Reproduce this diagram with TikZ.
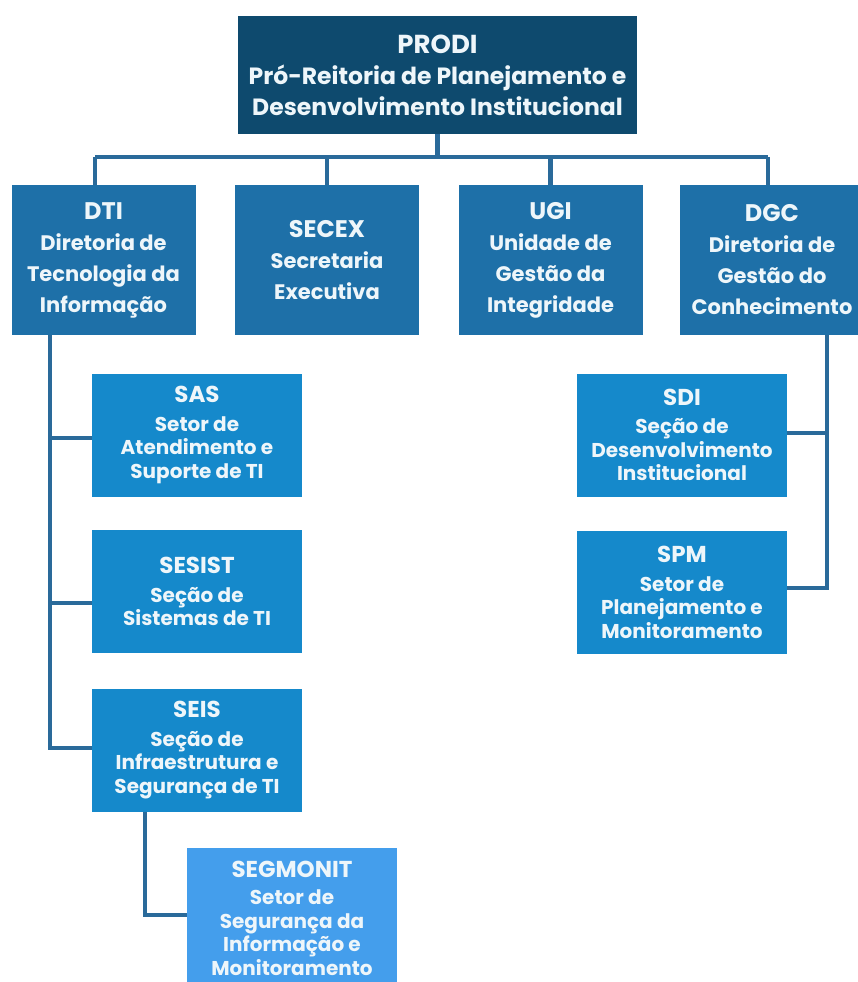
\documentclass[tikz,border=0pt]{standalone}
\usepackage{fontspec}
\setmainfont{Poppins}
\definecolor{navy}{HTML}{0E4A6E}
\definecolor{mid}{HTML}{1E70A8}
\definecolor{unit}{HTML}{1589CB}
\definecolor{light}{HTML}{449EEC}
\definecolor{wire}{HTML}{2A6A9A}
\definecolor{ink}{HTML}{EEF6FA}
% heading line of a box, set a little larger than the body
\newcommand\hd[2]{{\fontsize{#1}{#1}\selectfont #2}}
\tikzset{
  box/.style={rectangle, inner sep=0pt, align=center, text=ink, font=\bfseries},
  topbox/.style={box, fill=navy, minimum width=399pt, minimum height=118pt,
    font=\fontsize{23.5}{31}\bfseries\selectfont},
  dirbox/.style={box, fill=mid, minimum width=184pt, minimum height=150pt,
    font=\fontsize{21}{31}\bfseries\selectfont},
  unitbox/.style={box, fill=unit, minimum width=210pt, minimum height=123pt,
    font=\fontsize{20}{23.5}\bfseries\selectfont},
  subbox/.style={unitbox, fill=light},
  link/.style={draw=wire, line width=4.5pt}
}
\begin{document}
\begin{tikzpicture}[x=1pt, y=-1pt]
  \useasboundingbox[fill=white] (0,0) rectangle (857,982);

  % top level
  \node[topbox] (prodi) at (437.5,75) {\hd{26}{PRODI}\\Pró-Reitoria de Planejamento e\\Desenvolvimento Institucional};

  % directorates
  \node[dirbox] (dti) at (103.5,260) {\hd{24}{DTI}\\Diretoria de\\Tecnologia da\\Informação};
  \node[dirbox] (secex) at (327,260) {\hd{24}{SECEX}\\Secretaria\\Executiva};
  \node[dirbox] (ugi) at (550.5,260) {\hd{24}{UGI}\\Unidade de\\Gestão da\\Integridade};
  \node[dirbox] (dgc) at (772,260) {\hd{24}{DGC}\\Diretoria de\\Gestão do\\Conhecimento};

  % DTI sections
  \node[unitbox] (sas) at (197,435) {\hd{23}{SAS}\\[5pt]Setor de\\Atendimento e\\Suporte de TI};
  \node[unitbox] (sesist) at (197,591.5) {\hd{23}{SESIST}\\[5pt]Seção de\\Sistemas de TI};
  \node[unitbox] (seis) at (197,750) {\hd{23}{SEIS}\\[5pt]Seção de\\Infraestrutura e\\Segurança de TI};
  \node[subbox, minimum height=140pt, anchor=north] (segmonit) at (292,848)
    {\hd{23}{SEGMONIT}\\[4pt]Setor de\\Segurança da\\Informação e\\Monitoramento};

  % DGC sections
  \node[unitbox] (sdi) at (682,435) {\hd{23}{SDI}\\[5pt]Seção de\\Desenvolvimento\\Institucional};
  \node[unitbox] (spm) at (682,592.5) {\hd{23}{SPM}\\[5pt]Setor de\\Planejamento e\\Monitoramento};

  % connector points
  \coordinate (bus) at (437.5,157);
  \coordinate (dtiline) at (50,0);
  \coordinate (dgcline) at (827,0);

  % top bus
  \draw[link] (prodi.south) -- (bus);
  \draw[link] (95,157) -- (768,157);
  \draw[link] (95,157) -- (dti.north -| 95,0);
  \draw[link] (secex.north |- bus) -- (secex.north);
  \draw[link] (ugi.north |- bus) -- (ugi.north);
  \draw[link] (768,157) -- (dgc.north -| 768,0);

  % DTI spine
  \draw[link] (dti.south -| dtiline) -- (dtiline |- 0,748) -- (seis.west |- 0,748);
  \draw[link] (dtiline |- 0,438) -- (sas.west |- 0,438);
  \draw[link] (dtiline |- 0,603) -- (sesist.west |- 0,603);

  % SEIS to SEGMONIT
  \draw[link] (seis.south -| 145,0) -- (145,915) -- (segmonit.west |- 0,915);

  % DGC spine
  \draw[link] (dgc.south -| dgcline) -- (dgcline |- 0,588) -- (spm.east |- 0,588);
  \draw[link] (dgcline |- 0,433) -- (sdi.east |- 0,433);
\end{tikzpicture}
\end{document}
